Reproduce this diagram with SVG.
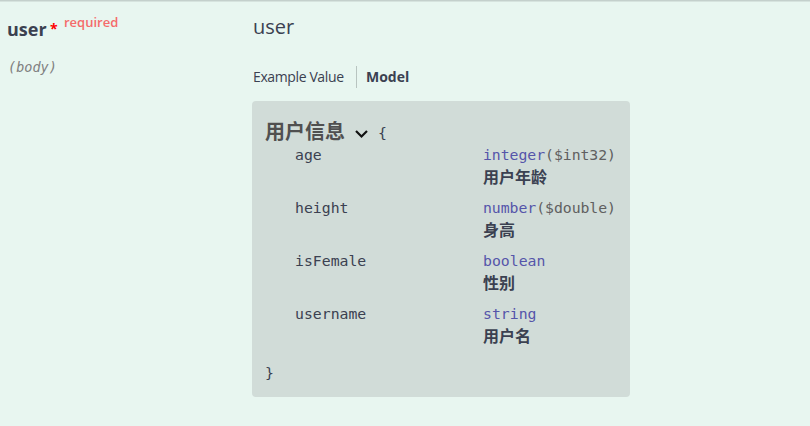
<svg xmlns="http://www.w3.org/2000/svg" width="810" height="426" viewBox="0 0 810 426">
<style>
.sans{font-family:"Open Sans","Noto Sans","Noto Sans CJK SC",sans-serif}
.mono{font-family:"DejaVu Sans Mono","Liberation Mono",monospace;font-size:14.8px}
.name{fill:#3b4151}
.type{fill:#55a}
.fmt{fill:#606060}
.desc{font-family:"Noto Sans CJK SC",sans-serif;font-size:16px;font-weight:bold;fill:#3b4151}
</style>
<rect x="0" y="0" width="810" height="426" fill="#e8f6f0"/>
<rect x="0" y="0" width="810" height="1.5" fill="#c4d0cc"/>
<g id="param">
<text x="7" y="36" class="sans" font-size="18" font-weight="bold" fill="#3b4151">user</text>
<text x="50" y="34" class="sans" font-size="14" font-weight="bold" fill="#ff0000">*</text>
<text x="64" y="27" class="sans" font-size="13" font-weight="600" fill="#f56b6b">required</text>
<text x="8" y="72" font-family="DejaVu Sans Mono,monospace" font-size="13.5" font-style="italic" fill="#808080">(body)</text>
</g>
<g id="header">
<text x="253" y="34" class="sans" font-size="20" fill="#3b4151">user</text>
<text x="253" y="82" class="sans" font-size="14" fill="#3b4151" textLength="91">Example Value</text>
<rect x="356" y="66" width="1" height="22" fill="#b8c4c0"/>
<text x="366" y="82" class="sans" font-size="14" font-weight="bold" fill="#3b4151">Model</text>
</g>
<g id="model">
<rect x="252" y="101" width="378" height="296" rx="4" fill="#d1dcd8"/>
<text x="265" y="139" font-family="Noto Sans CJK SC,sans-serif" font-size="20" font-weight="bold" fill="#505050">用户信息</text>
<path d="M356 131 L361.5 136.5 L367 131" fill="none" stroke="#111" stroke-width="2.2"/>
<text x="378" y="138" class="mono name">{</text>
<text x="295" y="160" class="mono name">age</text>
<text x="483" y="160" class="mono" textLength="133"><tspan class="type">integer</tspan><tspan class="fmt">($int32)</tspan></text>
<text x="483" y="182.5" class="desc">用户年龄</text>
<text x="295" y="213" class="mono name">height</text>
<text x="483" y="213" class="mono" textLength="133"><tspan class="type">number</tspan><tspan class="fmt">($double)</tspan></text>
<text x="483" y="235.5" class="desc">身高</text>
<text x="295" y="266" class="mono name">isFemale</text>
<text x="483" y="266" class="mono type">boolean</text>
<text x="483" y="288.5" class="desc">性别</text>
<text x="295" y="319" class="mono name">username</text>
<text x="483" y="319" class="mono type">string</text>
<text x="483" y="341.5" class="desc">用户名</text>
<text x="265" y="378" class="mono name">}</text>
</g>
</svg>
